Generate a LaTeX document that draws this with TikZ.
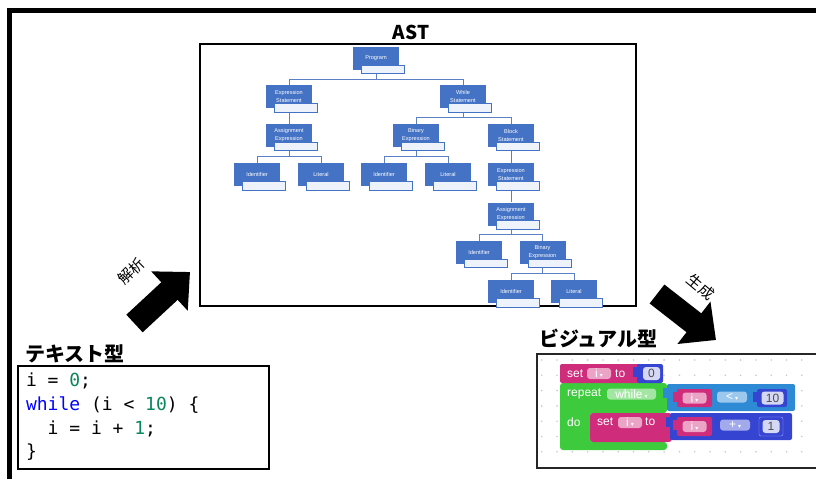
\documentclass[tikz,border=0pt]{standalone}
\usepackage{fontspec}
\setmainfont{Liberation Sans}
\newfontfamily\jpfont{Noto Sans CJK JP}
\newfontfamily\codefont{DejaVu Sans Mono}
\newfontfamily\symfont{DejaVu Sans}
\usetikzlibrary{positioning, arrows.meta}

\definecolor{astblue}{HTML}{4472C4}
\definecolor{astline}{HTML}{5B80C6}
\definecolor{tagfill}{HTML}{EEF2FA}
\definecolor{kwblue}{HTML}{0000FF}
\definecolor{numgreen}{HTML}{098658}
\definecolor{varpink}{HTML}{CF2C7C}
\definecolor{varlight}{HTML}{EBA3C6}
\definecolor{loopgreen}{HTML}{3DCB3D}
\definecolor{looplight}{HTML}{A3E6A3}
\definecolor{cmpblue}{HTML}{2F8AD6}
\definecolor{cmplight}{HTML}{9CC8EE}
\definecolor{mathblue}{HTML}{3545D2}
\definecolor{mathlight}{HTML}{A3AAEC}
\definecolor{fieldbg}{HTML}{D5D8F4}
\definecolor{griddot}{HTML}{C3C9D6}

\newcommand{\dropmark}{\,{\symfont\fontsize{6}{6}\selectfont ▾}}

\begin{document}
\begin{tikzpicture}[x=1pt, y=-1pt,
	astnode/.style={rectangle, fill=astblue, minimum width=46pt, minimum height=23pt, inner sep=0pt, text=white, font=\fontsize{5.6}{8}\selectfont, align=center},
	astedge/.style={draw=astline, line width=0.9pt},
	tagbox/.style={draw=astblue, fill=tagfill, line width=0.9pt},
	title/.style={font=\jpfont\bfseries\fontsize{20}{21}\selectfont, inner sep=0pt},
	codebox/.style={draw, line width=2pt, minimum width=251pt, minimum height=103pt, text width=235pt, align=left, inner sep=0pt, font=\codefont\fontsize{18}{23.7}\selectfont, execute at begin node={\spaceskip=10.84pt\relax\xspaceskip=10.84pt\relax}},
	bigarrow/.style={line width=24pt, -{Triangle[width=52pt, length=28pt]}},
	arrowlabel/.style={font=\jpfont\fontsize{15}{15}\selectfont, inner sep=0pt},
	btext/.style={text=white, font=\fontsize{12}{12}\selectfont, inner sep=0pt, anchor=west},
	dropfield/.style={rounded corners=3pt, minimum width=24pt, minimum height=11pt, inner sep=0.5pt, text=white, font=\fontsize{12}{12}\selectfont},
	numfield/.style={rounded corners=3pt, fill=fieldbg, minimum width=17pt, minimum height=13pt, inner sep=0.5pt, text=black!70, font=\fontsize{12}{12}\selectfont}
	]
	\useasboundingbox (0,0) rectangle (816,479);

	\draw[line width=5pt] (9.5,479) -- (9.5,10.5) -- (816,10.5);

	% AST
	\node[title, font=\jpfont\bfseries\fontsize{19}{20}\selectfont] (asttitle) at (411,32) {AST};
	\draw[line width=1.5pt] (200,44) rectangle (636,306);

	\node[astnode] (prog) at (376,58.5) {Program};
	\node[astnode, below=15pt of prog, xshift=-87pt] (es1) {Expression\\Statement};
	\node[astnode, below=15pt of prog, xshift=87pt] (wh) {While\\Statement};
	\node[astnode, below=15pt of es1] (as1) {Assignment\\Expression};
	\node[astnode, below=15pt of wh, xshift=-47pt] (bin1) {Binary\\Expression};
	\node[astnode, below=15pt of wh, xshift=48pt] (blk) {Block\\Statement};
	\node[astnode, below=16pt of as1, xshift=-32pt] (id1) {Identifier};
	\node[astnode, below=16pt of as1, xshift=32pt] (lit1) {Literal};
	\node[astnode, below=16pt of bin1, xshift=-32pt] (id2) {Identifier};
	\node[astnode, below=16pt of bin1, xshift=32pt] (lit2) {Literal};
	\node[astnode, below=16pt of blk] (es2) {Expression\\Statement};
	\node[astnode, below=16pt of es2] (as2) {Assignment\\Expression};
	\node[astnode, below=15pt of as2, xshift=-32pt] (id3) {Identifier};
	\node[astnode, below=15pt of as2, xshift=31.5pt] (bin2) {Binary\\Expression};
	\node[astnode, below=16pt of bin2, xshift=-31.5pt] (id4) {Identifier};
	\node[astnode, below=16pt of bin2, xshift=31.5pt] (lit3) {Literal};

	\foreach \p/\c in {prog/es1, prog/wh, wh/bin1, wh/blk, as1/id1, as1/lit1, bin1/id2, bin1/lit2, as2/id3, as2/bin2, bin2/id4, bin2/lit3}
		\draw[astedge] (\p.south) -- ++(0,9) -| (\c.north);
	\foreach \p/\c in {es1/as1, blk/es2, es2/as2}
		\draw[astedge] (\p.south) -- (\c.north);
	\foreach \n in {prog, es1, wh, as1, bin1, blk, id1, lit1, id2, lit2, es2, as2, id3, bin2, id4, lit3}
		\draw[tagbox] ([xshift=9pt, yshift=-18.5pt]\n.north west) rectangle ++(43,8.5);

	% text
	\node[codebox] (code) at (143.5,417) {i = {\color{numgreen}0};\\{\color{kwblue}while} (i < {\color{numgreen}10}) \{\\\phantom{xx}i = i + {\color{numgreen}1};\\\}};
	\node[title, anchor=west] (texttitle) at (25,354) {テキスト型};

	% arrows
	\coordinate (parsefrom) at (134.5,323.5);
	\coordinate (parseto) at (190,272);
	\draw[bigarrow] (parsefrom) -- (parseto);
	\node[arrowlabel, rotate=45] (parselabel) at (131,271) {解析};
	\coordinate (genfrom) at (657,294);
	\coordinate (gento) at (716,340);
	\draw[bigarrow] (genfrom) -- (gento);
	\node[arrowlabel, rotate=-40] (genlabel) at (701,287) {生成};

	% blocks
	\node[title, anchor=west] (visualtitle) at (539,338) {ビジュアル型};
	\foreach \i in {0,...,17}
		\foreach \j in {0,...,6}
			\fill[griddot] (541.7+15.3*\i, 360+15.3*\j) circle (0.9pt);
	\draw[line width=1.5pt, black!85] (816,354) -- (537,354) -- (537,468) -- (816,468);

	\fill[loopgreen, rounded corners=3pt] (560,383) -- (667,383) -- (667,413) -- (590,413) -- (590,442) -- (667,442) -- (667,450) -- (560,450) -- cycle;
	\node[btext] (rep) at (567,394) {repeat};
	\node[dropfield, fill=looplight, minimum width=49pt] (repmode) at (631.5,394) {while\dropmark};
	\node[btext] (repdo) at (567,422) {do};

	\fill[varpink, rounded corners=2pt] (560,364) rectangle (642,383);
	\node[btext] (set1) at (567,373.5) {set};
	\node[dropfield, fill=varlight] (set1var) at (599,373.5) {i\dropmark};
	\node[btext] (set1to) at (615,373.5) {to};
	\fill[mathblue] (633,367) rectangle (638,377);
	\fill[mathblue, rounded corners=2pt] (637,364) rectangle (663,383);
	\node[numfield] (num0) at (651.5,373.5) {0};

	\fill[cmpblue] (663,388) rectangle (668,398);
	\fill[cmpblue, rounded corners=2pt] (667,384) rectangle (795,411);
	\fill[varpink] (673,392) rectangle (678,402);
	\fill[varpink, rounded corners=2pt] (677,389) rectangle (712,407);
	\node[dropfield, fill=varlight] (cmpvar) at (694.5,398) {i\dropmark};
	\node[dropfield, fill=cmplight, minimum width=30pt] (cmpop) at (732,397) {<\dropmark};
	\fill[mathblue] (753,392) rectangle (758,402);
	\fill[mathblue, rounded corners=2pt] (757,389) rectangle (787,407);
	\node[numfield, minimum width=22pt] (num10) at (772.5,398) {10};

	\fill[varpink, rounded corners=3pt] (590,413) rectangle (672,442);
	\node[btext] (set2) at (597,422) {set};
	\node[dropfield, fill=varlight] (set2var) at (630,422.5) {i\dropmark};
	\node[btext] (set2to) at (645,422) {to};

	\fill[mathblue] (666,417) rectangle (671,427);
	\fill[mathblue, rounded corners=2pt] (670,413) rectangle (792,440);
	\fill[varpink] (673,420) rectangle (678,430);
	\fill[varpink, rounded corners=2pt] (677,417) rectangle (712,436);
	\node[dropfield, fill=varlight] (addvar) at (694.5,426.5) {i\dropmark};
	\node[dropfield, fill=mathlight, minimum width=30pt] (addop) at (735,425) {+\dropmark};
	\draw[mathlight, fill=mathblue, rounded corners=2pt] (759,417) rectangle (783,436);
	\node[numfield] (num1) at (771,426.5) {1};
\end{tikzpicture}
\end{document}
